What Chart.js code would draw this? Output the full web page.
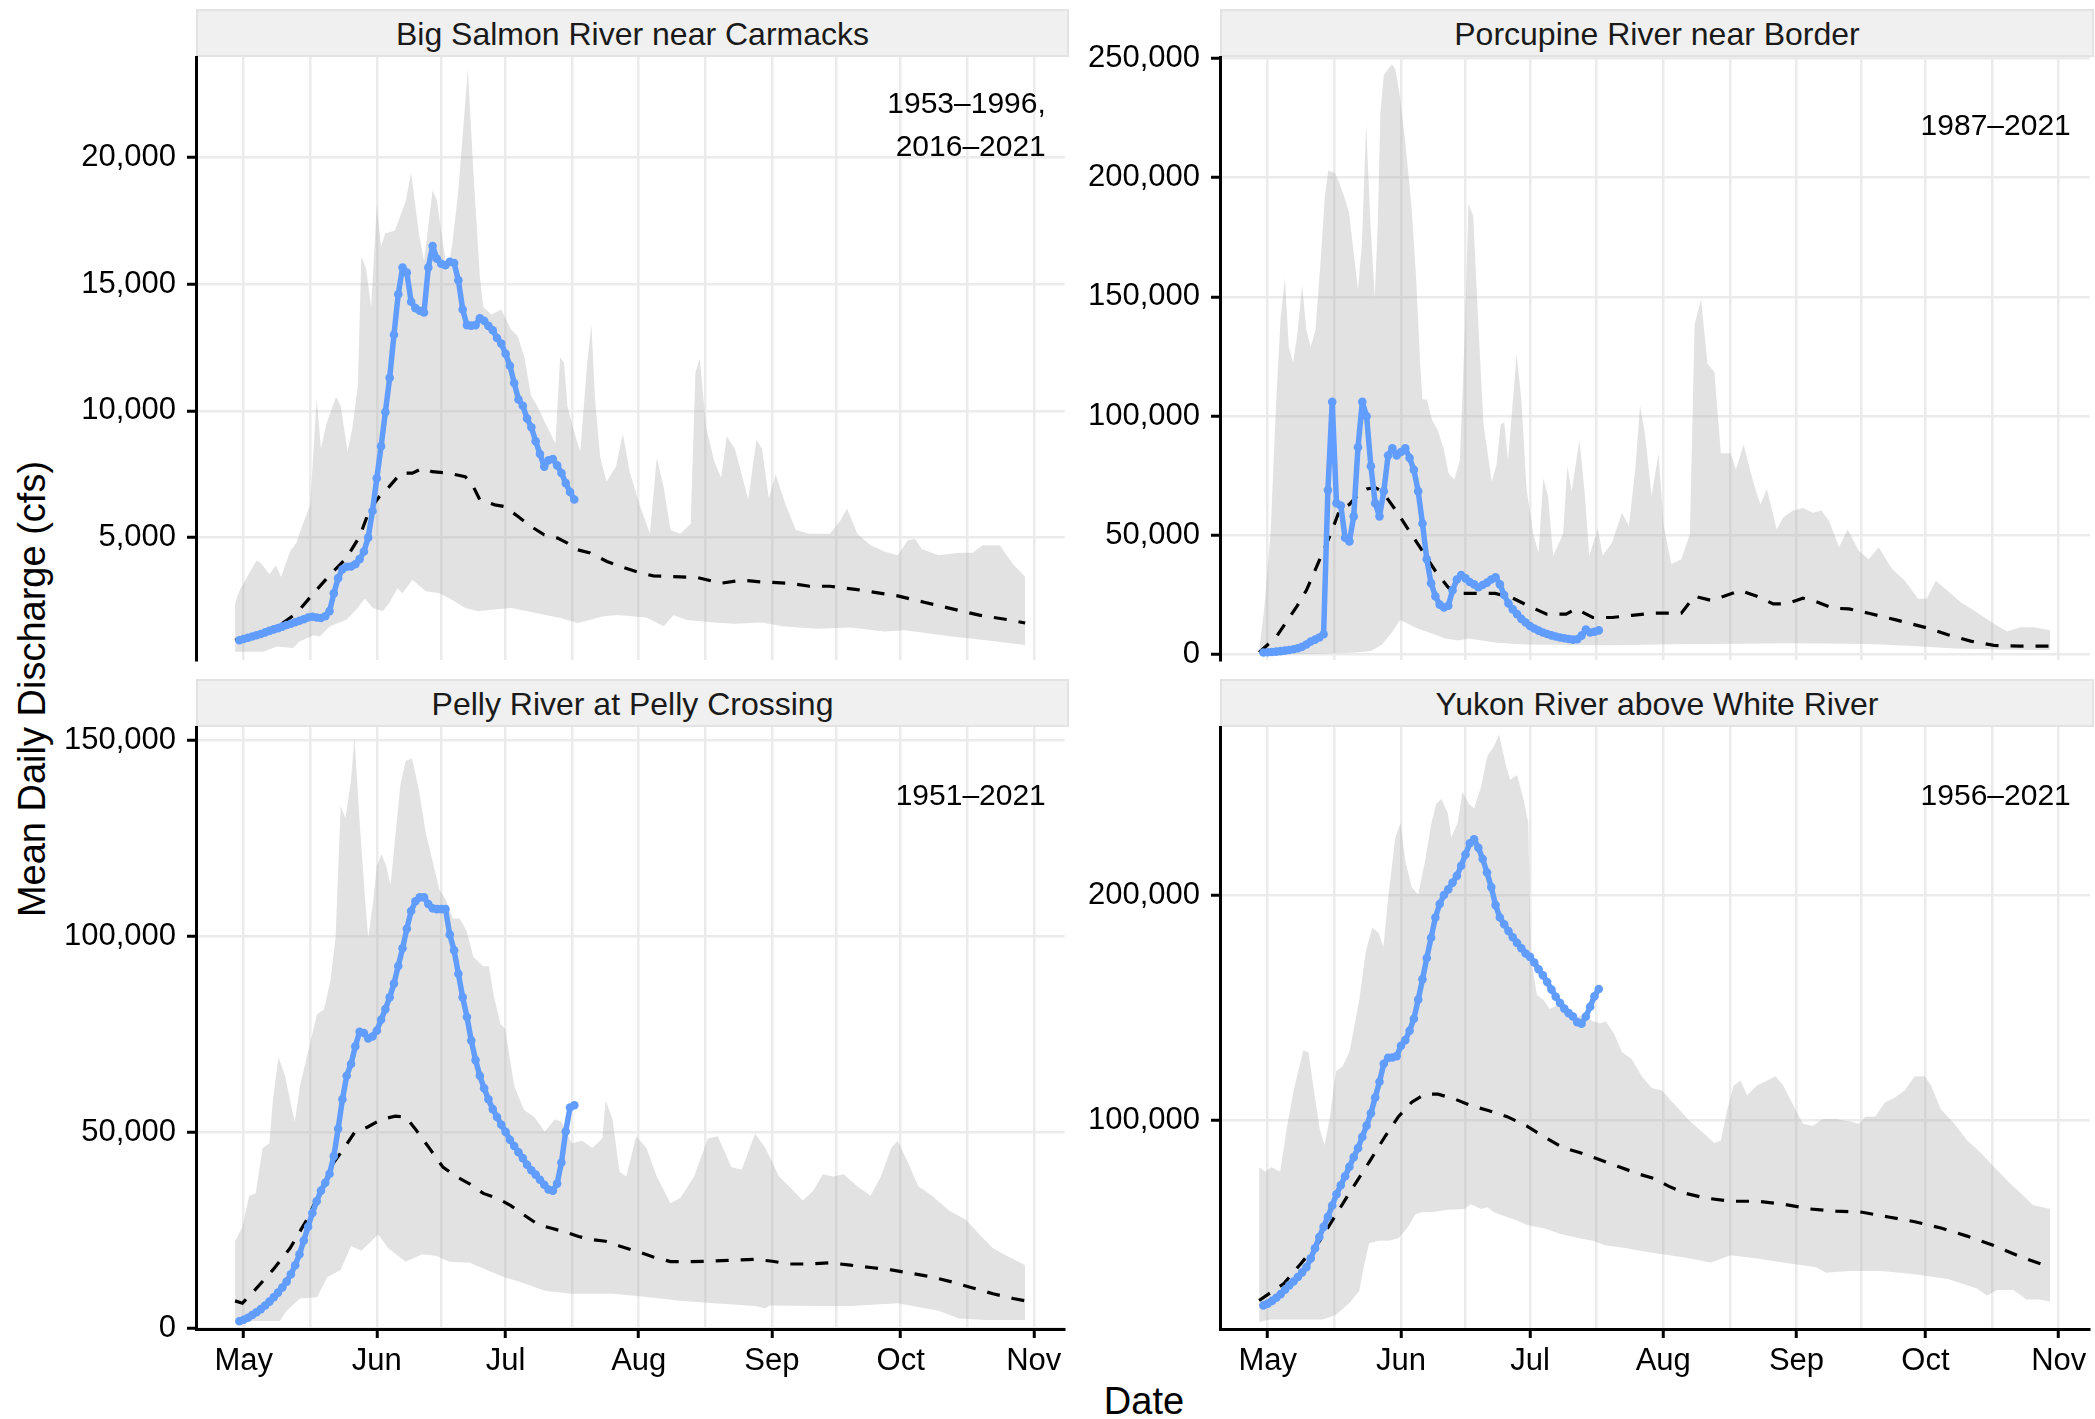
<!DOCTYPE html>
<html><head><meta charset="utf-8">
<script src="https://cdn.jsdelivr.net/npm/chart.js@4.4.1/dist/chart.umd.min.js"></script>
<style>
html,body{margin:0;padding:0;background:#fff;width:2095px;height:1419px;overflow:hidden;font-family:"Liberation Sans",Arial,Helvetica,sans-serif;}
canvas{position:absolute;}
.strip{position:absolute;box-sizing:border-box;background:#f0f0f0;border:2px solid #e3e3e3;display:flex;align-items:center;justify-content:center;font-size:32px;line-height:32px;color:#1a1a1a;padding-top:2px;}
.ttl{position:absolute;font-size:38px;line-height:38px;text-align:center;color:#000;white-space:nowrap;}
</style></head><body>

<div class="strip" style="left:196px;top:9px;width:873px;height:48px;">Big Salmon River near Carmacks</div>
<div class="strip" style="left:1220px;top:9px;width:874px;height:48px;">Porcupine River near Border</div>
<div class="strip" style="left:196px;top:679px;width:873px;height:48px;">Pelly River at Pelly Crossing</div>
<div class="strip" style="left:1220px;top:679px;width:874px;height:48px;">Yukon River above White River</div>
<div class="ttl" style="left:-268px;top:670px;width:600px;transform:rotate(-90deg);">Mean Daily Discharge (cfs)</div>
<div class="ttl" style="left:944px;top:1382px;width:400px;">Date</div>

<canvas id="c1" width="1013" height="653" style="left:56px;top:32px;width:1013px;height:653px;"></canvas>
<canvas id="c2" width="1014" height="653" style="left:1080px;top:32px;width:1014px;height:653px;"></canvas>
<canvas id="c3" width="1013" height="707" style="left:56px;top:702px;width:1013px;height:707px;"></canvas>
<canvas id="c4" width="1014" height="707" style="left:1080px;top:702px;width:1014px;height:707px;"></canvas>

<script>
// ---- x axis (days after May 1) ----
const monthLabels = ['May','Jun','Jul','Aug','Sep','Oct','Nov'];
const monthDays = [0, 31, 61, 92, 123, 153, 184];
const midMonthDays = [15.5, 46, 76.5, 107.5, 138, 168.5];
const blueStartDay = -1; // Apr 30, one value per day

// ---- Big Salmon River near Carmacks ----
const salmonTicks = [5000, 10000, 15000, 20000];
const salmonYears = ['1953\u20131996,', '2016\u20132021'];
const salmon2021 = [950,1000,1050,1100,1150,1200,1260,1320,1380,1430,1490,1550,1600,1660,1720,1780,1850,1880,1850,1830,1900,2100,2800,3400,3750,3850,3860,3950,4150,4450,5000,6050,7340,8600,9950,11300,13000,14600,15650,15450,14300,14050,13950,13880,15650,16500,16000,15800,15740,15880,15830,15150,14000,13380,13360,13380,13650,13550,13350,13180,12870,12650,12250,11780,11100,10450,10200,9700,9350,8800,8300,7800,8050,8100,7850,7550,7150,6800,6500];
const salmonMedian = [[-2,950],[3,1200],[8.5,1550],[12.4,2030],[16.3,2810],[20.1,3530],[23.9,4190],[27,5040],[29.3,6090],[31.6,6620],[33.9,7010],[36.6,7540],[39.3,7540],[41.6,7730],[43.9,7600],[47.7,7540],[51.6,7400],[53.1,7140],[55,6490],[58.5,6290],[60.8,6220],[63.9,5830],[66.9,5440],[70,5110],[73.1,4980],[75.4,4780],[77.7,4520],[80.7,4390],[84.6,4060],[88,3850],[92.2,3620],[95.4,3490],[101.7,3450],[105.7,3420],[111.2,3200],[116,3320],[120.7,3250],[127,3200],[131.8,3080],[136.5,3080],[142.9,2950],[149.2,2780],[152.3,2700],[158.7,2440],[165,2190],[171.3,1940],[177.7,1770],[182,1630]];
const salmonMax = [[-2,2400],[-1,2900],[1,3500],[3,4100],[4,4000],[6,3550],[7.5,3900],[8.7,3450],[10.8,4450],[12.3,4800],[13.5,5400],[15.5,6300],[17,10500],[18,8500],[19.3,9500],[21.5,10550],[22.6,10200],[24.2,8400],[25.3,9300],[26.6,11000],[27.4,16100],[28.5,15600],[29.7,14100],[31,18100],[32,16500],[33,17000],[35.2,17100],[37.8,18300],[39,19400],[40.8,17000],[42,15900],[44,18700],[45,18300],[46.3,16700],[47.5,15500],[48.6,16600],[50,18700],[51.3,21500],[52.2,23500],[53.5,19400],[55,15300],[55.8,14100],[57.7,13800],[60,14000],[60.8,13700],[62.3,13200],[63.8,12950],[65.4,12100],[66.9,10600],[68.5,10150],[70,9600],[71.5,9100],[72.6,8700],[73.7,12100],[74.6,11900],[75.4,10200],[76.8,9250],[78.4,8400],[80,11900],[81,13400],[81.8,10500],[83,8200],[84.5,7200],[86.7,7800],[88.3,9100],[89.9,7600],[92.2,6300],[94.6,5150],[96.2,8150],[97.8,7000],[99.4,5300],[101.7,5150],[104.1,5550],[105.2,11500],[106.2,12050],[107.7,9350],[109.6,8000],[111.2,7350],[112.5,9000],[114.4,8500],[117.5,6500],[119.4,8850],[120.7,8500],[122.3,6550],[123.9,7500],[126.2,6300],[128.6,5300],[131.8,5150],[136.5,5150],[138.9,5650],[140.5,6150],[142.9,5150],[146,4700],[149.2,4450],[152.3,4300],[154.7,4900],[156.3,4950],[157.9,4550],[161.8,4300],[166.6,4400],[169.8,4400],[172.1,4700],[176.1,4700],[177.7,4300],[179.2,3950],[182,3450]];
const salmonMin = [[-2,500],[4.6,500],[7.7,700],[11.5,650],[13,900],[16.3,1150],[17.7,1100],[20.1,1500],[23.9,1760],[26.2,2150],[28.2,2600],[30.1,2220],[32.4,2090],[33.9,2420],[35.8,3000],[37,2800],[39.3,3340],[42.4,2880],[45.4,2810],[48.5,2550],[51.6,2220],[54.6,2090],[57.7,2150],[62.3,2220],[66.1,2090],[70,1960],[73.8,1830],[77.7,1630],[80.7,1760],[83.8,1900],[87,1950],[93.8,1850],[97.8,1500],[100.1,1940],[103.3,1750],[109.6,1650],[114.4,1600],[120.7,1650],[125.5,1500],[133.4,1400],[141.3,1450],[149.2,1300],[153.9,1350],[165,1100],[172.9,950],[182,760]];

// ---- Porcupine River near Border ----
const porcTicks = [0, 50000, 100000, 150000, 200000, 250000];
const porcYears = ['1987\u20132021'];
const porc2021 = [900,1000,1150,1300,1500,1700,1950,2300,2700,3300,4300,5500,6300,7200,8600,69000,106000,63500,62500,49000,47500,58000,87000,106000,100000,79000,63500,58000,68500,83500,86500,83500,85000,86500,82500,77500,68500,55000,40000,30000,24500,21000,19800,20500,27000,31500,33400,32000,30500,29500,28300,29200,30200,31500,32500,29500,25000,21500,19000,17000,15000,13500,12000,11000,10100,9300,8700,8100,7600,7200,6900,6600,6300,6500,8000,10500,9300,9600,10200];
const porcMedian = [[-2,900],[2,7500],[6.7,20000],[9,27000],[12.1,40000],[14.5,50000],[16.7,60500],[19,63000],[21,67000],[23,69500],[25,70000],[26.6,68500],[29.7,60800],[32.8,52200],[35.9,43700],[39,35100],[42,28200],[45.1,25700],[49,25700],[52.9,25700],[56.7,24000],[60.6,20500],[64.9,17000],[69.4,17000],[71.7,19200],[75.6,15600],[80.1,15600],[84.7,16500],[89.3,17400],[96.2,17400],[99.3,24500],[103.1,22800],[106.1,24500],[110,26900],[113.8,24500],[117.6,21300],[120.7,21300],[124.5,23700],[127.6,22200],[131.4,19500],[135.2,19200],[139.8,17400],[145.9,14700],[153.6,11100],[158.2,8400],[163.5,5700],[168.9,3900],[175,3600],[182,3600]];
const porcMax = [[-2,1700],[-0.8,19700],[0.7,52000],[1.9,103500],[3,141000],[4,158000],[4.9,129000],[5.9,122500],[6.9,134500],[8,155000],[9,136000],[10,129000],[11.1,136000],[12.3,165000],[13.3,192500],[14.1,203000],[15.6,202000],[16.5,198500],[17.7,192500],[18.9,185500],[20,168500],[21,153000],[21.9,172000],[22.9,222500],[23.9,180500],[24.9,150000],[25.6,180500],[26.2,227000],[27,243000],[28.9,247500],[29.7,245500],[30.8,233500],[32,215000],[33.4,189000],[34.5,158500],[35.5,120500],[36,107000],[37,107000],[38.2,98500],[39.6,94000],[40.9,86500],[42.1,76000],[43.4,73500],[44.7,81500],[45.9,138000],[46.7,189000],[47.8,184000],[49,138000],[50.2,96500],[52.1,72500],[53.2,79500],[54.2,96500],[55,97500],[55.9,81500],[57.9,126000],[59,107000],[60.2,69500],[61.8,50500],[63,42500],[64.1,74000],[65.2,66500],[66.4,41500],[68.7,50500],[69.7,79000],[70.7,68500],[72.5,90000],[73.7,68500],[74.8,41500],[76.8,53000],[77.9,41500],[80.1,47000],[82.4,59500],[84,54000],[85.5,77500],[86.6,104500],[87.8,92000],[89.3,66500],[90.9,84500],[92.1,54000],[93.9,38000],[96.2,40000],[98.2,50500],[99.3,138500],[100.8,149000],[102.3,122000],[103.9,118500],[105.4,84500],[107.7,84500],[108.9,77500],[110.7,88000],[113,72000],[114.6,63000],[116.1,69500],[118.4,52500],[119.9,57500],[122.2,60500],[124.5,61500],[126.8,59500],[128.8,60500],[130.6,56000],[132.9,45000],[134.9,52500],[137.5,43500],[139.8,40000],[142.1,45000],[145.2,36000],[148.2,31000],[151.3,23500],[153.3,23500],[155.4,31000],[157.4,28000],[161.2,22000],[164.3,18500],[168.9,13000],[172,9700],[175,11500],[178.1,11500],[182,10200]];
const porcMin = [[-2,0],[10,300],[20,800],[24,1500],[26.6,4300],[28.9,9400],[30.8,14500],[32.8,12800],[34.7,11100],[37.4,9400],[41.3,6800],[44.4,6000],[46.7,6800],[49.8,6000],[52.9,5100],[56.7,4600],[60.6,4300],[70,4100],[80,4000],[90,4300],[100,4500],[110,4600],[120,4800],[130,4700],[140,4500],[150,3600],[160,2600],[170,2200],[182,2000]];

// ---- Pelly River at Pelly Crossing ----
const pellyTicks = [0, 50000, 100000, 150000];
const pellyYears = ['1951\u20132021'];
const pelly2021 = [1900,2300,2800,3500,4200,5000,5900,6900,8000,9200,10500,12000,13900,16200,19000,22500,26000,29500,32500,35200,37200,39500,44000,51000,58500,64500,67500,72000,75700,75400,74000,74500,76000,78800,81500,84500,88000,92500,97000,102000,106500,109000,110000,110000,108300,107200,107000,107000,107000,100500,96500,90500,84500,79500,73500,68500,64500,61300,58500,56000,54000,52000,50200,48200,46600,45000,43500,41800,40400,39300,38000,36700,35500,35200,37000,42400,50300,56400,57000];
const pellyMedian = [[-2,7100],[-0.3,6500],[2.8,10100],[6.8,15000],[10.8,20500],[14.7,27800],[17.9,35100],[21,42400],[23.4,46100],[25.8,50000],[29,51500],[32.1,53400],[35.3,54200],[37.7,54000],[40,50900],[43.2,46100],[46.4,41200],[49.5,38800],[52.7,36900],[55.8,34500],[59,33300],[62.2,31400],[65.3,29000],[68.5,26600],[71.7,25600],[74.8,24700],[78,23500],[81.2,22700],[84.3,22300],[87.5,21100],[92.2,19500],[95.4,18300],[99.4,17100],[103.3,17100],[108.1,17200],[112.8,17400],[119.1,17700],[123.1,17200],[127,16500],[131.8,16500],[136.5,16800],[141.3,16200],[146,15600],[150.8,15000],[155.5,14100],[160.3,13200],[165,11900],[169.8,10400],[174.5,8900],[179.2,7700],[182,7100]];
const pellyMax = [[-2,22300],[-0.3,26000],[1.3,33900],[2.8,34500],[4.4,46000],[6,47300],[6.8,58200],[8.1,69200],[9.7,64300],[10.8,58200],[11.9,52800],[13.1,61900],[15.5,72900],[17.1,80200],[18.7,81400],[20.2,88700],[21.4,99700],[22.6,133200],[23.7,130100],[25,139900],[25.8,150900],[27.1,127700],[28.2,110600],[29,99700],[30.2,109400],[31,118000],[32.1,121000],[33.2,118000],[34.2,113100],[35.3,125300],[36.5,138700],[37.7,144800],[39.2,145400],[40.8,137500],[42.4,126500],[44,119200],[45.6,111900],[47.1,109400],[48.7,104600],[50.3,104600],[51.9,101500],[53.5,94800],[55.8,92400],[57.1,92400],[58.2,85100],[59.8,77700],[60.9,76500],[63,61900],[65.3,55800],[67.7,54000],[70.1,50300],[72.5,53400],[74,52800],[76.4,47300],[78.8,47900],[81.2,46100],[83.5,48500],[84.3,58200],[85.9,53400],[87.5,40000],[89.1,38800],[91.4,49100],[93.8,46100],[96.2,38800],[99.4,32000],[101.7,33300],[104.9,38800],[108.1,48500],[110.4,49100],[113.6,41200],[116,40600],[119.1,49700],[121.5,46100],[124.7,38800],[127,36300],[130.2,32700],[132.6,35100],[134.9,39400],[137.3,38800],[139.7,39400],[142.9,36300],[146,33900],[148.4,38800],[150.8,46100],[152.3,47900],[154.2,43600],[157.1,36300],[160.3,33900],[164.2,30200],[168.2,27800],[171.3,24100],[174.5,20500],[177.7,18600],[182,16200]];
const pellyMin = [[-2,1950],[8.4,1950],[10,4600],[13.1,7700],[17.1,8000],[19.5,13200],[22.6,15000],[25,21100],[27.4,19900],[29.7,22300],[31.3,24100],[33.7,20500],[37.7,17100],[41.6,19000],[44.8,18600],[47.9,17100],[52.7,16800],[57.4,14600],[60.6,13200],[65.3,11600],[70.1,9700],[76.4,8900],[86,8900],[92.2,8300],[101.7,7100],[109.6,6500],[119.1,5800],[121.5,5200],[122.5,5900],[133.4,5800],[141.3,5800],[152.3,6500],[161.8,4600],[166.6,2600],[172.9,2200],[182,2200]];

// ---- Yukon River above White River ----
const yukonTicks = [100000, 200000];
const yukonYears = ['1956\u20132021'];
const yukon2021 = [17600,18400,19600,21000,22600,24600,26500,28200,30200,32300,34600,38500,43000,48000,52500,57000,62000,67000,71000,75000,79200,83500,87500,92500,97500,103000,110000,117000,125000,127600,127800,128400,133000,135500,139700,145000,153500,162500,172000,181000,190000,196000,200000,202500,205500,208500,213000,218000,223000,224800,221000,216000,210000,203500,195500,190000,187000,184000,181200,178700,176300,174000,172500,170000,167000,164300,161300,158000,154800,152000,149500,147500,146000,143500,142800,146000,150300,155000,158200];
const yukonMedian = [[-2,19800],[3.7,27200],[7.5,35700],[12.1,46300],[15.9,58000],[19.7,69700],[23.6,81300],[27.4,93000],[30.4,101500],[33.5,107900],[36.6,111500],[39.6,111500],[43.4,109400],[47.3,106400],[51.1,104300],[55.7,101500],[60.3,97300],[64.9,91900],[68.7,87700],[72.5,85600],[77.1,82400],[81.7,79200],[86.3,76000],[90.1,73900],[93.1,70700],[97,67500],[101.6,65400],[107.7,63900],[113.8,63900],[119.9,62600],[126,60500],[132.2,59500],[138.3,59000],[144.4,56900],[150.5,54800],[156.6,52000],[162.7,48400],[168.9,44200],[175,39300],[182,34600]];
const yukonMax = [[-2,79000],[-0.6,77000],[0.9,79000],[2.9,77000],[4.4,96000],[6,113000],[8.3,131000],[9.5,130000],[10.6,115000],[12.1,96000],[13.2,88800],[14.4,100400],[15.9,121700],[17.4,123800],[19,130200],[21.3,153500],[22.8,174700],[24.3,185400],[25.8,183200],[26.9,176900],[28.1,200200],[29.7,225700],[30.9,232100],[32,215100],[33.5,203400],[35,200200],[36.6,215100],[38.1,232100],[39.2,240600],[40.4,242700],[41.9,236300],[42.7,225700],[44.2,232100],[45.3,245900],[46.8,240600],[48,238400],[49.6,248000],[51.1,261800],[52.6,266000],[53.8,271300],[55.4,257500],[56.4,251200],[58,253300],[59.5,242700],[60.6,232100],[61.2,172600],[62.6,155600],[64.1,153500],[65.6,149300],[67.9,151400],[69.4,147100],[71.7,145000],[73.3,147100],[75.6,143900],[77.4,142900],[78.6,143900],[80.5,138600],[82.4,130200],[84.7,127000],[87,119500],[89.3,114200],[91.6,113200],[94.7,106800],[97.7,100400],[100.8,95100],[103.9,89800],[105.4,90900],[106.9,104700],[108.4,115300],[110,117400],[111.5,111000],[113.8,115300],[116.1,117400],[118.1,119500],[119.9,115300],[122.2,106800],[124.5,98300],[126.8,97300],[129.1,100400],[132.2,100400],[135.2,99400],[137.5,98300],[139,101500],[141.3,101500],[143.6,107900],[145.9,110000],[148.2,113200],[150.5,119500],[152.8,119500],[154.3,115300],[156.6,104700],[159.7,98300],[162.7,90900],[165.8,85600],[168.9,79200],[172.7,71800],[175.7,66500],[178,62200],[182,60500]];
const yukonMin = [[-2,10200],[0.6,11300],[12.8,11300],[15.9,13400],[19,18700],[21.3,24000],[22.3,34600],[23.6,45200],[25.8,46300],[28.1,46300],[30.4,47400],[32.7,52700],[34.3,58000],[35.8,59000],[38.1,59000],[41.9,60100],[45.7,60500],[47.3,62600],[49.6,60500],[51.1,61200],[52.6,59000],[55.7,56900],[58.7,54800],[60.3,53300],[64.9,51600],[67.9,49500],[72.5,47400],[75.6,46300],[78.6,44200],[83.2,43100],[89.3,41000],[97,38900],[103.1,36700],[107.7,39900],[113.8,38400],[119.9,36700],[127.6,34600],[129.9,32100],[135.2,32900],[142.8,32900],[150.5,31400],[158.2,29300],[165,25100],[167.3,21900],[169.6,24400],[173.5,24400],[176.5,20200],[179.5,20200],[182,19300]];

// ---- rendering ----
const FONT = '"Liberation Sans", Arial, Helvetica, sans-serif';
Chart.defaults.font.family = FONT;
const BLUE = '#619CFF';
const RIBBON = 'rgba(175,175,175,0.37)';
const GRID = '#ebebeb';

const periodPlugin = {
  id: 'periodLabel',
  afterDatasetsDraw(chart, args, opts) {
    const {ctx, chartArea, scales} = chart;
    const x = scales.x.getPixelForValue(opts.x);
    const lines = opts.lines || [];
    const n = lines.length, lh = 42.8, cy = chartArea.top + 68;
    ctx.save();
    ctx.font = '30px ' + FONT;
    ctx.fillStyle = '#000';
    ctx.textAlign = 'right';
    ctx.textBaseline = 'middle';
    lines.forEach((t, i) => ctx.fillText(t, x, cy + (i - (n - 1) / 2) * lh + 1.5));
    ctx.restore();
  }
};

const toPts = pairs => pairs.map(p => ({x: p[0], y: p[1]}));
const dailyPts = vals => vals.map((v, i) => ({x: blueStartDay + i, y: v}));

function makeChart(id, obs, med, maxP, minP, yMin, yMax, yTicks, years, isBottom) {
  const allX = monthDays.concat(midMonthDays).sort((a, b) => a - b);
  new Chart(document.getElementById(id), {
    type: 'scatter',
    data: {datasets: [
      {data: dailyPts(obs), showLine: true, borderColor: BLUE, backgroundColor: BLUE,
       borderWidth: 5.5, pointRadius: 4.3, pointBorderWidth: 0, pointBackgroundColor: BLUE,
       borderJoinStyle: 'round', borderCapStyle: 'round', fill: false},
      {data: toPts(med), showLine: true, borderColor: '#000', borderWidth: 3.2,
       borderDash: [13, 12], pointRadius: 0, fill: false},
      {data: toPts(maxP), showLine: true, borderColor: 'rgba(0,0,0,0)', borderWidth: 0.01,
       pointRadius: 0, backgroundColor: RIBBON, fill: '+1'},
      {data: toPts(minP), showLine: true, borderColor: 'rgba(0,0,0,0)', borderWidth: 0.01,
       pointRadius: 0, fill: false}
    ]},
    options: {
      animation: false, responsive: false, maintainAspectRatio: false,
      events: [],
      layout: {padding: {top: 25, bottom: isBottom ? 0 : 25, left: 0, right: 0}},
      plugins: {legend: {display: false}, tooltip: {enabled: false},
                periodLabel: {lines: years, x: 186.8}},
      scales: {
        x: {
          type: 'linear', min: -11.1, max: 191.2,
          afterBuildTicks: s => { s.ticks = allX.map(v => ({value: v})); },
          afterFit: s => { s.paddingLeft = 0; s.paddingRight = 0; s.height = isBottom ? 80 : 0; },
          ticks: {display: isBottom, autoSkip: false, maxRotation: 0, minRotation: 0, padding: 5,
                  color: '#000', font: {size: 31, family: FONT},
                  callback: v => { const k = monthDays.indexOf(v); return k >= 0 ? monthLabels[k] : ''; }},
          grid: {color: GRID, lineWidth: 2.5, drawTicks: isBottom, tickLength: 9, tickWidth: 3,
                 tickColor: c => (c.tick && monthDays.includes(c.tick.value)) ? '#000' : 'rgba(0,0,0,0)'},
          border: {display: isBottom, color: '#000', width: 3}
        },
        y: {
          type: 'linear', min: yMin, max: yMax,
          afterBuildTicks: s => { s.ticks = yTicks.map(v => ({value: v})); },
          afterFit: s => { s.width = 140; s.paddingTop = 0; s.paddingBottom = 0; },
          ticks: {padding: 11, color: '#000', font: {size: 31, family: FONT},
                  callback: v => Number(v).toLocaleString('en-US')},
          grid: {color: GRID, lineWidth: 2.5, tickLength: 9, tickWidth: 3, tickColor: '#000'},
          border: {display: true, color: '#000', width: 3}
        }
      }
    },
    plugins: [periodPlugin]
  });
}

makeChart('c1', salmon2021, salmonMedian, salmonMax, salmonMin, 172, 23956, salmonTicks, salmonYears, false);
makeChart('c2', porc2021, porcMedian, porcMax, porcMin, -2222, 250590, porcTicks, porcYears, false);
makeChart('c3', pelly2021, pellyMedian, pellyMax, pellyMin, -76, 153440, pellyTicks, pellyYears, true);
makeChart('c4', yukon2021, yukonMedian, yukonMax, yukonMin, 7120, 274660, yukonTicks, yukonYears, true);
</script>
</body></html>
